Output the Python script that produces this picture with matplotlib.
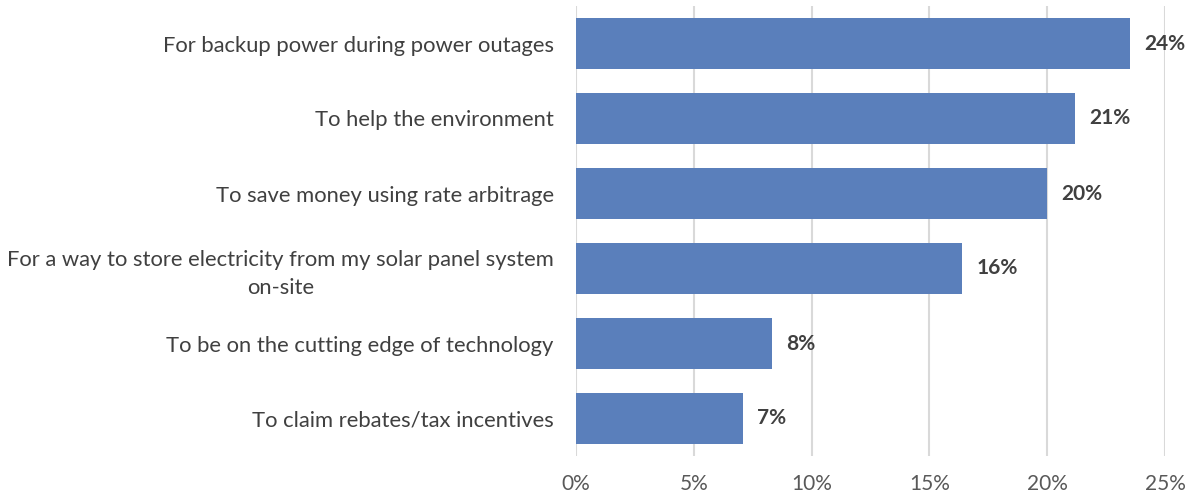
import numpy as np
import matplotlib.pyplot as plt

motivos = [
    'For backup power during power outages',
    'To help the environment',
    'To save money using rate arbitrage',
    'For a way to store electricity from my solar panel system\non-site',
    'To be on the cutting edge of technology',
    'To claim rebates/tax incentives',
]
valores = [23.5, 21.2, 20.0, 16.4, 8.3, 7.1]
ticks_x = [0, 5, 10, 15, 20, 25]

plt.rcParams['font.family'] = ['Lato', 'DejaVu Sans']

fig = plt.figure(figsize=(11.88, 4.94), dpi=100)
ax = fig.add_axes([576/1188, 38/494, (1165-576)/1188, 450/494])

y = np.arange(len(motivos))
ax.barh(y, valores, height=0.67, color='#5a7fbb', zorder=3)

# etiquetas de valor al final de cada barra
for yi, v in zip(y, valores):
    ax.text(v + 0.6, yi, f'{v:.0f}%', va='center', ha='left',
            fontsize=15, fontweight='bold', color='#404040', zorder=4)

ax.set_xlim(0, 25)
ax.set_ylim(len(motivos) - 0.5, -0.5)
ax.set_xticks(ticks_x)
ax.set_xticklabels([f'{t}%' for t in ticks_x])
ax.set_yticks(y)
ax.set_yticklabels(motivos, multialignment='center', linespacing=1.45)

ax.xaxis.grid(True, color='#d9d9d9', linewidth=1.5, zorder=0)
for s in ax.spines.values():
    s.set_visible(False)
ax.tick_params(axis='both', length=0)
ax.tick_params(axis='y', pad=16, labelsize=15.8, labelcolor='#404040')
ax.tick_params(axis='x', pad=13, labelsize=15, labelcolor='#595959')

plt.savefig('out.png', dpi=100)
